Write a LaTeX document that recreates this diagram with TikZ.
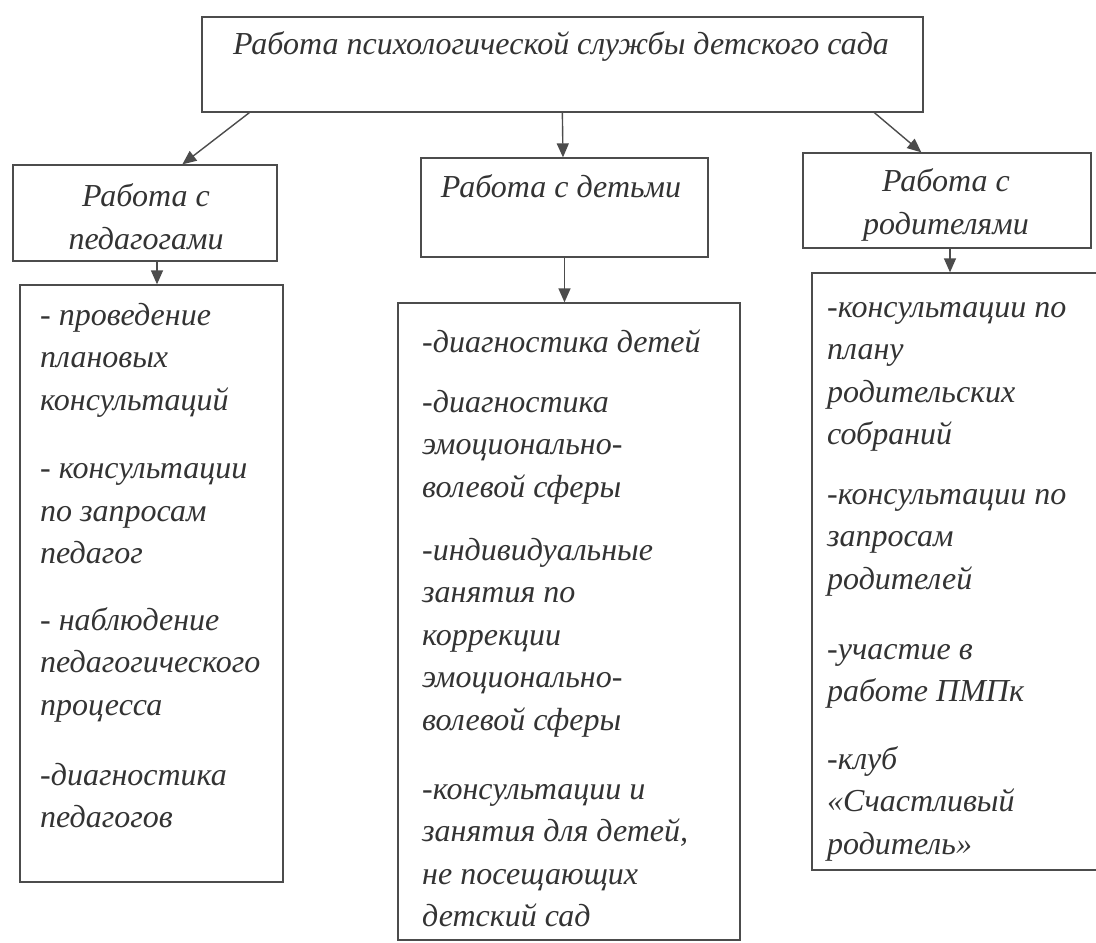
\documentclass[tikz,border=0pt]{standalone}
\usepackage{fontspec}
\setmainfont{Liberation Serif}
\usetikzlibrary{calc}
\usetikzlibrary{positioning}
\usetikzlibrary{arrows.meta}

\begin{document}
\begin{tikzpicture}[x=1pt,y=-1pt,
        frame/.style={draw=black!70,line width=1.3pt,inner sep=0pt},
        words/.style={text=black!80,inner sep=0pt,font=\fontsize{32}{42.5}\selectfont\itshape},
        link/.style={draw=black!70,line width=1.4pt,-{Triangle[length=14pt,width=12pt]}}]
    \useasboundingbox (0,0) rectangle (1096,943);

    % head box
    \node[frame,minimum width=721pt,minimum height=95pt] (main) at (562.5,64.5) {};
    \node[words,anchor=base] (maintext) at (561,54) {Работа психологической службы детского сада};

    % teachers (base = last line)
    \node[frame,minimum width=264pt,minimum height=96pt] (lhead) at (145,213) {};
    \node[words,align=center,anchor=base] (lheadtext) at (146,249) {Работа с\\педагогами};
    \node[frame,minimum width=263pt,minimum height=597pt] (lbody) at (151.5,583.5) {};
    \node[words,align=left,anchor=base west] (lbodytext) at (40,827.5)
        {- проведение\\плановых\\консультаций\\[26pt]- консультации\\по запросам\\педагог\\[24pt]- наблюдение\\педагогического\\процесса\\[27.5pt]-диагностика\\педагогов};

    % children
    \node[frame,minimum width=287pt,minimum height=99pt] (mhead) at (564.5,207.5) {};
    \node[words,anchor=base] (mheadtext) at (561,197) {Работа с детьми};
    \node[frame,minimum width=342pt,minimum height=637pt] (mbody) at (569,621.5) {};
    \node[words,align=left,anchor=base west] (mbodytext) at (422,926.5)
        {-диагностика детей\\[17.5pt]-диагностика\\эмоционально-\\волевой сферы\\[20.5pt]-индивидуальные\\занятия по\\коррекции\\эмоционально-\\волевой сферы\\[26.5pt]-консультации и\\занятия для детей,\\не посещающих\\детский сад};

    % parents
    \node[frame,minimum width=288pt,minimum height=95pt] (rhead) at (947,200.5) {};
    \node[words,align=center,anchor=base] (rheadtext) at (946,234) {Работа с\\родителями};
    \node[frame,minimum width=288pt,minimum height=597pt] (rbody) at (956,571.5) {};
    \node[words,align=left,anchor=base west] (rbodytext) at (827,854)
        {-консультации по\\плану\\родительских\\собраний\\[17pt]-консультации по\\запросам\\родителей\\[27.5pt]-участие в\\работе ПМПк\\[25pt]-клуб\\«Счастливый\\родитель»};

    % arrows
    \draw[link] ([xshift=48pt]main.south west) -- ([xshift=170pt]lhead.north west);
    \draw[link] ([xshift=361pt]main.south west) -- ([xshift=-1.5pt]mhead.north);
    \draw[link] ([xshift=673pt]main.south west) -- ([xshift=119pt]rhead.north west);
    \draw[link] ([xshift=12pt]lhead.south) -- ([xshift=5.5pt]lbody.north);
    \draw[link] (mhead.south) -- ([xshift=-4.5pt]mbody.north);
    \draw[link] ([xshift=3pt]rhead.south) -- ([xshift=-6pt]rbody.north);
\end{tikzpicture}
\end{document}
